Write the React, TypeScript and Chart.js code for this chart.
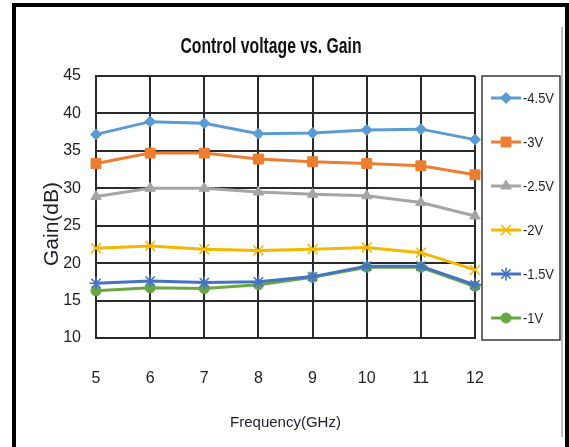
import React, { useEffect, useRef } from 'react';
import { Chart, registerables, PointElement } from 'chart.js';

Chart.register(...registerables);

// ---- data ----
const frequencies = [5, 6, 7, 8, 9, 10, 11, 12];
const seriesLabels = ['-4.5V', '-3V', '-2.5V', '-2V', '-1.5V', '-1V'];
const gainMinus45 = [37.2, 38.9, 38.7, 37.3, 37.4, 37.8, 37.9, 36.5];
const gainMinus3 = [33.3, 34.7, 34.7, 33.9, 33.55, 33.3, 33.0, 31.8];
const gainMinus25 = [28.9, 30.0, 30.0, 29.5, 29.2, 29.0, 28.1, 26.3];
const gainMinus2 = [22.0, 22.3, 21.85, 21.7, 21.85, 22.1, 21.4, 19.1];
const gainMinus15 = [17.3, 17.6, 17.4, 17.5, 18.2, 19.6, 19.6, 17.1];
const gainMinus1 = [16.3, 16.7, 16.6, 17.1, 18.1, 19.45, 19.45, 16.9];
const yMin = 10;
const yMax = 45;
const yStep = 5;
const chartTitle = 'Control voltage vs. Gain';
const xTitle = 'Frequency(GHz)';
const yTitle = 'Gain(dB)';

const seriesValues = [gainMinus45, gainMinus3, gainMinus25, gainMinus2, gainMinus15, gainMinus1];
const seriesColors = ['#5b9bd5', '#ed7d31', '#a5a5a5', '#f5b800', '#4472c4', '#68a843'];
const seriesStyles = ['rectRot', 'rect', 'triangle', 'crossRot', 'star', 'circle'];
const seriesRadii = [5.5, 7, 6, 7, 6.5, 5];
const seriesPointBorder = [1, 1, 1, 1.5, 1.5, 1];

const SANS = '"Liberation Sans", Arial, sans-serif';
const TEXT = '#1e1e28';
const GRID = '#2a2a2a';

function fillTextFit(ctx: CanvasRenderingContext2D, text: string, x: number, y: number, sx: number) {
  ctx.save();
  ctx.translate(x, y);
  ctx.scale(sx, 1);
  ctx.fillText(text, 0, 0);
  ctx.restore();
}

const decorPlugin = {
  id: 'decor',
  afterDraw(chart: any) {
    const ctx = chart.ctx as CanvasRenderingContext2D;
    const area = chart.chartArea;
    ctx.save();
    // chart title (tall, condensed)
    ctx.fillStyle = '#111';
    ctx.font = `bold 22px ${SANS}`;
    ctx.textAlign = 'center';
    ctx.textBaseline = 'alphabetic';
    const tw = ctx.measureText(chartTitle).width;
    fillTextFit(ctx, chartTitle, 271, 53, 181 / tw);

    // y axis title
    ctx.save();
    ctx.translate(52, (area.top + area.bottom) / 2 + 17);
    ctx.rotate(-Math.PI / 2);
    ctx.font = `21px ${SANS}`;
    ctx.fillStyle = TEXT;
    ctx.textAlign = 'center';
    ctx.textBaseline = 'middle';
    ctx.fillText(yTitle, 0, 0);
    ctx.restore();

    // legend box
    const bx = area.right + 7;
    const by = area.top;
    const bw = 78;
    const bh = area.bottom - area.top + 2;
    ctx.strokeStyle = '#3a3a3a';
    ctx.lineWidth = 1.5;
    ctx.strokeRect(bx, by, bw, bh);

    ctx.font = `15px ${SANS}`;
    const legScale = 31 / ctx.measureText(seriesLabels[0]).width;
    const big = { left: -1e4, top: -1e4, right: 1e4, bottom: 1e4 };
    chart.data.datasets.forEach((ds: any, i: number) => {
      const cy = by + 22 + i * 44;
      const x0 = bx + 9;
      const x1 = bx + 39;
      ctx.strokeStyle = ds.borderColor;
      ctx.lineWidth = 3;
      ctx.beginPath();
      ctx.moveTo(x0, cy);
      ctx.lineTo(x1, cy);
      ctx.stroke();
      const pt: any = new (PointElement as any)({
        x: (x0 + x1) / 2,
        y: cy,
        options: {
          pointStyle: ds.pointStyle,
          radius: ds.pointRadius,
          rotation: 0,
          borderWidth: ds.pointBorderWidth,
          borderColor: ds.borderColor,
          backgroundColor: ds.backgroundColor,
        },
      });
      pt.draw(ctx, big);
      ctx.fillStyle = TEXT;
      ctx.font = `15px ${SANS}`;
      ctx.textAlign = 'left';
      ctx.textBaseline = 'middle';
      fillTextFit(ctx, ds.label, x1 + 2, cy + 1, legScale);
    });
    ctx.restore();
  },
};

export default function App() {
  const ref = useRef<HTMLCanvasElement | null>(null);

  useEffect(() => {
    if (!ref.current) return;
    const datasets = seriesLabels.map((label, i) => ({
      label,
      data: frequencies.map((f, j) => ({ x: f, y: seriesValues[i][j] })),
      borderColor: seriesColors[i],
      backgroundColor: seriesColors[i],
      borderWidth: 3,
      pointStyle: seriesStyles[i],
      pointRadius: seriesRadii[i],
      pointBorderWidth: seriesPointBorder[i],
      pointBackgroundColor: seriesColors[i],
      pointBorderColor: seriesColors[i],
      tension: 0,
      clip: false as any,
    }));

    const chart = new Chart(ref.current, {
      type: 'line',
      data: { datasets },
      plugins: [decorPlugin],
      options: {
        animation: false,
        responsive: false,
        devicePixelRatio: 1,
        layout: { padding: { left: 0, top: 76, right: 94, bottom: 0 } },
        plugins: {
          legend: { display: false },
          tooltip: { enabled: false },
          title: { display: false },
        },
        scales: {
          x: {
            type: 'linear',
            min: frequencies[0],
            max: frequencies[frequencies.length - 1],
            ticks: {
              stepSize: 1,
              padding: 31,
              color: TEXT,
              font: { family: SANS, size: 16 },
            },
            grid: { color: GRID, lineWidth: 2, drawTicks: false },
            border: { color: GRID, width: 2 },
            title: {
              display: true,
              text: xTitle,
              color: TEXT,
              font: { family: SANS, size: 15 },
              padding: { top: 0, bottom: 15 },
            },
            afterFit: (s: any) => {
              s.height = 109;
            },
          },
          y: {
            min: yMin,
            max: yMax,
            ticks: {
              stepSize: yStep,
              padding: 15,
              color: TEXT,
              font: { family: SANS, size: 16 },
            },
            grid: { color: GRID, lineWidth: 2, drawTicks: false },
            border: { color: GRID, width: 2 },
            afterFit: (s: any) => {
              s.width = 96;
            },
          },
        },
      },
    });
    return () => chart.destroy();
  }, []);

  return (
    <div style={{ position: 'fixed', left: 0, top: 0, width: 569, height: 447, background: '#fff', overflow: 'hidden' }}>
      <canvas ref={ref} width={569} height={447} style={{ display: 'block', width: 569, height: 447 }} />
      <div style={{ position: 'absolute', left: 12, top: 3, width: 557, height: 4, background: '#000' }} />
      <div style={{ position: 'absolute', left: 12, top: 3, width: 4, height: 444, background: '#000' }} />
      <div style={{ position: 'absolute', left: 565, top: 3, width: 4, height: 444, background: '#000' }} />
      <div style={{ position: 'absolute', left: 561, top: 27, width: 2, height: 410, background: '#b4bfc3' }} />
    </div>
  );
}
